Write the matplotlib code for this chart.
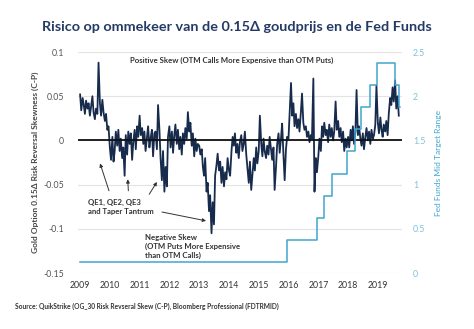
import numpy as np
import pandas as pd
import matplotlib
matplotlib.use('Agg')
import matplotlib.pyplot as plt
import matplotlib.dates as mdates
from matplotlib.ticker import FixedLocator, FuncFormatter

plt.rcParams['font.family'] = ['Lato', 'DejaVu Sans']

# Gold option 0.15 delta risk reversal skew, semi-monthly readings
skew_2009 = [0.052, 0.034, 0.048, 0.040, 0.030, 0.045, 0.036, 0.042, 0.028, 0.038, 0.050, 0.032,
             0.024, 0.036, 0.030, 0.088, 0.042, 0.028, 0.046, 0.032, 0.022, 0.030, 0.012, 0.016]
skew_2010 = [-0.008, -0.022, 0.004, -0.024, -0.012, 0.010, -0.006, 0.012, -0.012, 0.002, -0.020, -0.008,
             -0.040, 0.006, -0.016, 0.010, -0.004, 0.008, -0.022, -0.002, 0.012, -0.010, 0.016, 0.004]
skew_2011 = [0.028, 0.006, 0.014, -0.004, 0.010, -0.012, 0.004, 0.016, -0.008, 0.002, 0.012, -0.018,
             0.008, 0.010, -0.010, 0.040, 0.012, -0.020, -0.045, -0.012, -0.058, -0.030, -0.052, 0.004]
skew_2012 = [0.016, -0.008, 0.010, -0.014, 0.006, 0.018, -0.004, 0.012, -0.010, 0.004, -0.016, 0.008,
             -0.004, 0.014, 0.002, 0.032, 0.010, 0.020, -0.006, 0.008, -0.018, 0.002, -0.012, -0.004]
skew_2013 = [-0.006, -0.016, -0.010, -0.030, -0.040, -0.020, -0.058, -0.048, -0.080, -0.062, -0.105, -0.070,
             -0.095, -0.040, -0.028, -0.015, -0.034, -0.024, -0.048, -0.030, -0.052, -0.036, -0.044, -0.020]
skew_2014 = [-0.034, -0.040, -0.012, 0.004, -0.006, 0.008, -0.014, -0.004, -0.020, -0.002, 0.006, -0.012,
             -0.004, 0.010, -0.016, -0.030, -0.048, -0.024, -0.056, -0.040, -0.020, -0.034, -0.008, -0.026]
skew_2015 = [-0.012, 0.028, -0.004, -0.018, 0.002, -0.012, -0.020, -0.006, -0.016, 0.004, -0.010, -0.022,
             -0.008, -0.056, -0.030, -0.004, 0.008, -0.014, 0.002, 0.019, -0.018, -0.045, -0.010, 0.004]
skew_2016 = [0.002, 0.030, 0.065, 0.028, 0.042, 0.016, 0.030, 0.014, 0.024, 0.010, 0.032, 0.053,
             0.020, 0.012, 0.016, 0.004, 0.010, -0.002, 0.006, 0.002, 0.070, -0.058, -0.020, -0.036]
skew_2017 = [-0.018, 0.002, -0.012, 0.016, 0.004, 0.020, 0.006, 0.012, -0.002, 0.018, 0.004, 0.014,
             0.000, 0.010, 0.044, 0.012, 0.022, 0.004, 0.014, -0.002, 0.010, -0.012, 0.002, -0.008]
skew_2018 = [0.004, -0.008, 0.012, 0.000, 0.016, -0.004, 0.010, 0.057, 0.006, 0.016, 0.002, -0.006,
             0.008, -0.010, 0.004, 0.014, 0.000, 0.010, -0.004, 0.012, 0.002, 0.006, 0.018, 0.062]
skew_2019 = [0.020, 0.008, 0.026, 0.012, 0.004, 0.018, 0.010, 0.022, 0.006, 0.030, 0.048, 0.040,
             0.060, 0.044, 0.068, 0.036, 0.050, 0.028]

# Fed funds mid target range (step changes)
fed_dates = ['2009-01-01', '2015-12-16', '2016-12-14', '2017-03-15', '2017-06-14', '2017-12-13',
             '2018-03-21', '2018-06-13', '2018-09-26', '2018-12-19', '2019-07-31', '2019-09-18',
             '2019-09-28']
fed_mid = [0.125, 0.375, 0.625, 0.875, 1.125, 1.375, 1.625, 1.875, 2.125, 2.375, 2.125, 1.875, 1.875]

left_ticks = [0.1, 0.05, 0, -0.05, -0.1, -0.15]
right_ticks = [0, 0.5, 1, 1.5, 2, 2.5]

skew = (skew_2009 + skew_2010 + skew_2011 + skew_2012 + skew_2013 + skew_2014
        + skew_2015 + skew_2016 + skew_2017 + skew_2018 + skew_2019)
skew_dates = pd.date_range('2009-01-01', periods=len(skew), freq='SMS')
fed_dates = pd.to_datetime(fed_dates)

NAVY = '#172b4d'
BLUE = '#3fa6d0'
TEXT = '#333333'


def yr(t):
    """Decimal year -> matplotlib date number."""
    return mdates.date2num(pd.Timestamp('2009-01-01')) + (t - 2009) * 365.25


fig = plt.figure(figsize=(4.74, 3.29), dpi=100)
ax = fig.add_axes([0.1646, 0.1702, 0.6835, 0.6717])
ax2 = ax.twinx()

ax.plot(skew_dates, skew, color=NAVY, lw=1.3, zorder=2)
ax.axhline(0, color='#111111', lw=1.3, zorder=3)
ax2.plot(fed_dates, fed_mid, color=BLUE, lw=1.1, drawstyle='steps-post')

ax.set_ylim(-0.15, 0.1)
ax2.set_ylim(0, 2.5)
ax.set_xlim(yr(2008.93), yr(2019.81))

ax.yaxis.set_major_locator(FixedLocator(left_ticks))
ax.yaxis.set_major_formatter(FuncFormatter(lambda v, p: f'{v:g}'))
ax2.yaxis.set_major_locator(FixedLocator(right_ticks))
ax2.yaxis.set_major_formatter(FuncFormatter(lambda v, p: f'{v:g}'))
ax.xaxis.set_major_locator(mdates.YearLocator())
ax.xaxis.set_major_formatter(mdates.DateFormatter('%Y'))

ax.grid(axis='y', color='#e3e3e3', lw=0.8)
ax.set_axisbelow(True)
for a in (ax, ax2):
    for s in a.spines.values():
        s.set_visible(False)
ax.tick_params(axis='both', length=0, labelsize=6.3, colors='#555555')
ax.tick_params(axis='x', colors=TEXT, pad=6)
ax.tick_params(axis='y', pad=10)
ax2.tick_params(axis='y', length=0, labelsize=6.3, colors='#7cc0dc', pad=8)

ax.set_ylabel('Gold Option 0.15Δ Risk Reversal Skewness (C-P)', fontsize=6, color='#444444',
              fontweight='bold', labelpad=3)
ax2.set_ylabel('Fed Funds Mid Target Range', fontsize=6, color=BLUE, labelpad=7)

fig.text(0.5, 0.918, 'Risico op ommekeer van de 0.15Δ goudprijs en de Fed Funds',
         ha='center', va='center', fontsize=10.4, fontweight='bold', color='#243a66')
fig.text(0.032, 0.07, 'Source: QuikStrike (OG_30 Risk Revseral Skew (C-P), Bloomberg Professional (FDTRMID)',
         ha='left', va='center', fontsize=4.8, fontweight='bold', color=TEXT)

ax.text(yr(2014.10), 0.090, 'Positive Skew (OTM Calls More Expensive than OTM Puts)',
        ha='center', va='center', fontsize=5.6, fontweight='bold', color=TEXT)
ax.text(yr(2009.27), -0.075, 'QE1, QE2, QE3\nand Taper Tantrum', ha='left', va='center',
        fontsize=5.6, fontweight='bold', color=TEXT, linespacing=1.3)
ax.text(yr(2011.18), -0.120, 'Negative Skew\n(OTM Puts More Expensive\nthan OTM Calls)', ha='left',
        va='center', fontsize=5.6, fontweight='bold', color=TEXT, linespacing=1.3)

arrows = [((2009.67, -0.026), (2009.97, -0.057)),
          ((2010.60, -0.044), (2010.62, -0.057)),
          ((2011.58, -0.047), (2011.32, -0.061)),
          ((2013.23, -0.091), (2011.75, -0.081))]
for (hx, hy), (tx, ty) in arrows:
    ax.annotate('', xy=(yr(hx), hy), xytext=(yr(tx), ty),
                arrowprops=dict(arrowstyle='-|>', color=TEXT, lw=0.7,
                                mutation_scale=5, shrinkA=0, shrinkB=0))

fig.savefig('out.png', dpi=100)
